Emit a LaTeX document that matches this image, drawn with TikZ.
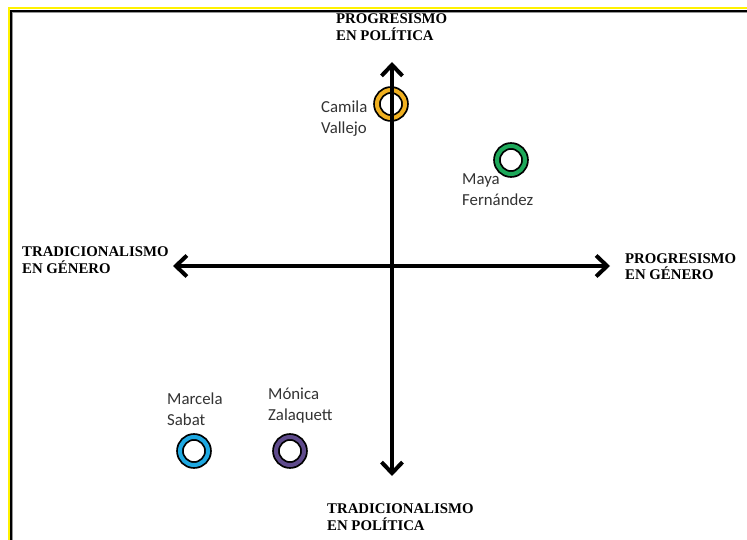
\documentclass[tikz,border=0pt]{standalone}
\usepackage{fontspec}
\setmainfont{Liberation Serif}
\newfontfamily\namefont{Carlito}
\usetikzlibrary{arrows.meta}
\definecolor{ringgold}{RGB}{240,176,32}
\definecolor{ringgreen}{RGB}{30,168,90}
\definecolor{ringblue}{RGB}{30,168,225}
\definecolor{ringpurple}{RGB}{95,75,140}
\definecolor{framegray}{RGB}{150,150,150}

\begin{document}
\begin{tikzpicture}[x=1pt,y=-1pt]
		\tikzstyle {axis line} = [line width=4pt, {Straight Barb[length=11pt,width=21pt]}-{Straight Barb[length=11pt,width=21pt]}]
		\tikzstyle {axis label} = [anchor=north west, inner sep=0pt, align=left, font=\bfseries\fontsize{14.8}{17}\selectfont]
		\tikzstyle {name label} = [anchor=north west, inner sep=0pt, align=left, text=black!80, font=\namefont\fontsize{16.8}{21}\selectfont]
		\tikzstyle {ring} = [circle, inner sep=0pt, minimum size=28pt, fill=white, draw=black, line width=1.8pt, double distance=4pt]

		\clip (0,0) rectangle (747,540);
		\fill[white] (0,0) rectangle (747,540);
		\draw[yellow, line width=2.6pt] (9,8) rectangle (780,580);
		\draw[black, line width=2pt] (11.2,10.8) rectangle (780,580);
		\draw[framegray, line width=0.8pt] (12.6,12.2) rectangle (780,580);

		\node[ring, double=ringgold] (camila) at (391,104) {};
		\node[ring, double=ringgreen] (maya) at (511,160) {};
		\node[ring, double=ringblue] (marcela) at (194,451) {};
		\node[ring, double=ringpurple] (monica) at (290,451) {};

		\coordinate (west end) at (173,266);
		\coordinate (east end) at (610,266);
		\coordinate (north end) at (392,62);
		\coordinate (south end) at (392,476);
		\draw[axis line] (west end) -- (east end);
		\draw[axis line] (south end) -- (north end);

		\node[axis label] (pol prog) at (336,14) {PROGRESISMO\\EN POLÍTICA};
		\node[axis label] (pol trad) at (327,503) {TRADICIONALISMO\\EN POLÍTICA};
		\node[axis label] (gen trad) at (22,247) {TRADICIONALISMO\\EN GÉNERO};
		\node[axis label] (gen prog) at (625,253) {PROGRESISMO\\EN GÉNERO};

		\node[name label] (camila name) at (321,101) {Camila\\Vallejo};
		\node[name label] (maya name) at (462,174) {Maya\\Fernández};
		\node[name label] (marcela name) at (167,393) {Marcela\\Sabat};
		\node[name label] (monica name) at (268,388) {Mónica\\Zalaquett};
	\end{tikzpicture}
\end{document}
